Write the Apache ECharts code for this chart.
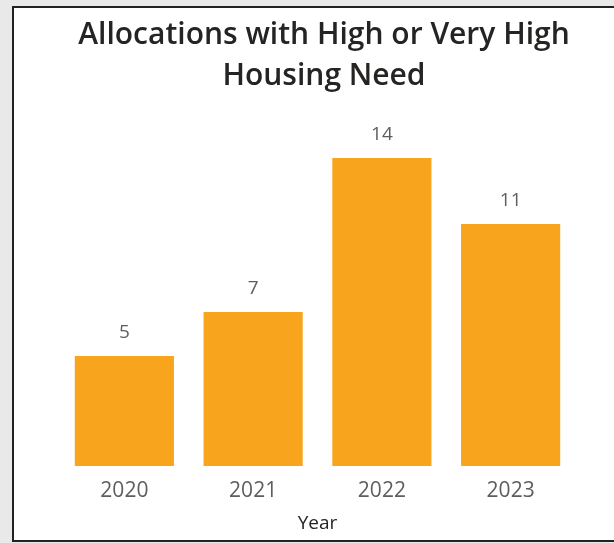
<!DOCTYPE html>
<html><head><meta charset="utf-8">
<script src="https://cdn.jsdelivr.net/npm/echarts@6/dist/echarts.min.js"></script>
<style>
html,body{margin:0;padding:0;background:#e9e9e9;overflow:hidden;}
#frame{position:absolute;left:12px;top:6px;width:620px;height:532px;border:2px solid #222;background:#fff;}
#chart{position:absolute;left:0;top:0;width:614px;height:543px;}
</style></head>
<body>
<div id="frame"></div>
<div id="chart"></div>
<script>
const categories = ['2020','2021','2022','2023'];
const values = [5, 7, 14, 11];
const titleText = 'Allocations with High or Very High\nHousing Need';
const xAxisName = 'Year';

const chart = echarts.init(document.getElementById('chart'), null, {renderer:'canvas'});
chart.setOption({
  backgroundColor: 'transparent',
  animation: false,
  title: {
    text: titleText,
    left: 319, top: 10, textAlign: 'center',
    textStyle: {fontFamily:'Open Sans', fontWeight:600, fontSize:30, color:'#252423', lineHeight:41}
  },
  grid: {left: 60, right: 39, top: 158, bottom: 77},
  xAxis: {
    type: 'category', data: categories,
    axisLine:{show:false}, axisTick:{show:false},
    axisLabel:{color:'#605e5c', fontSize:21, fontFamily:'Open Sans', margin:15},
    name: xAxisName, nameLocation:'middle', nameGap:48,
    nameTextStyle:{color:'#252423', fontSize:19, fontFamily:'Open Sans'}
  },
  yAxis: {type:'value', min:0, max:14, show:false, splitLine:{show:false}},
  series: [{
    type:'bar', data: values, barCategoryGap:'23%',
    itemStyle:{color:'#f8a51d'},
    label:{show:true, position:'top', distance:14, color:'#605e5c', fontSize:19, fontFamily:'Open Sans'}
  }]
});
</script>
</body></html>
